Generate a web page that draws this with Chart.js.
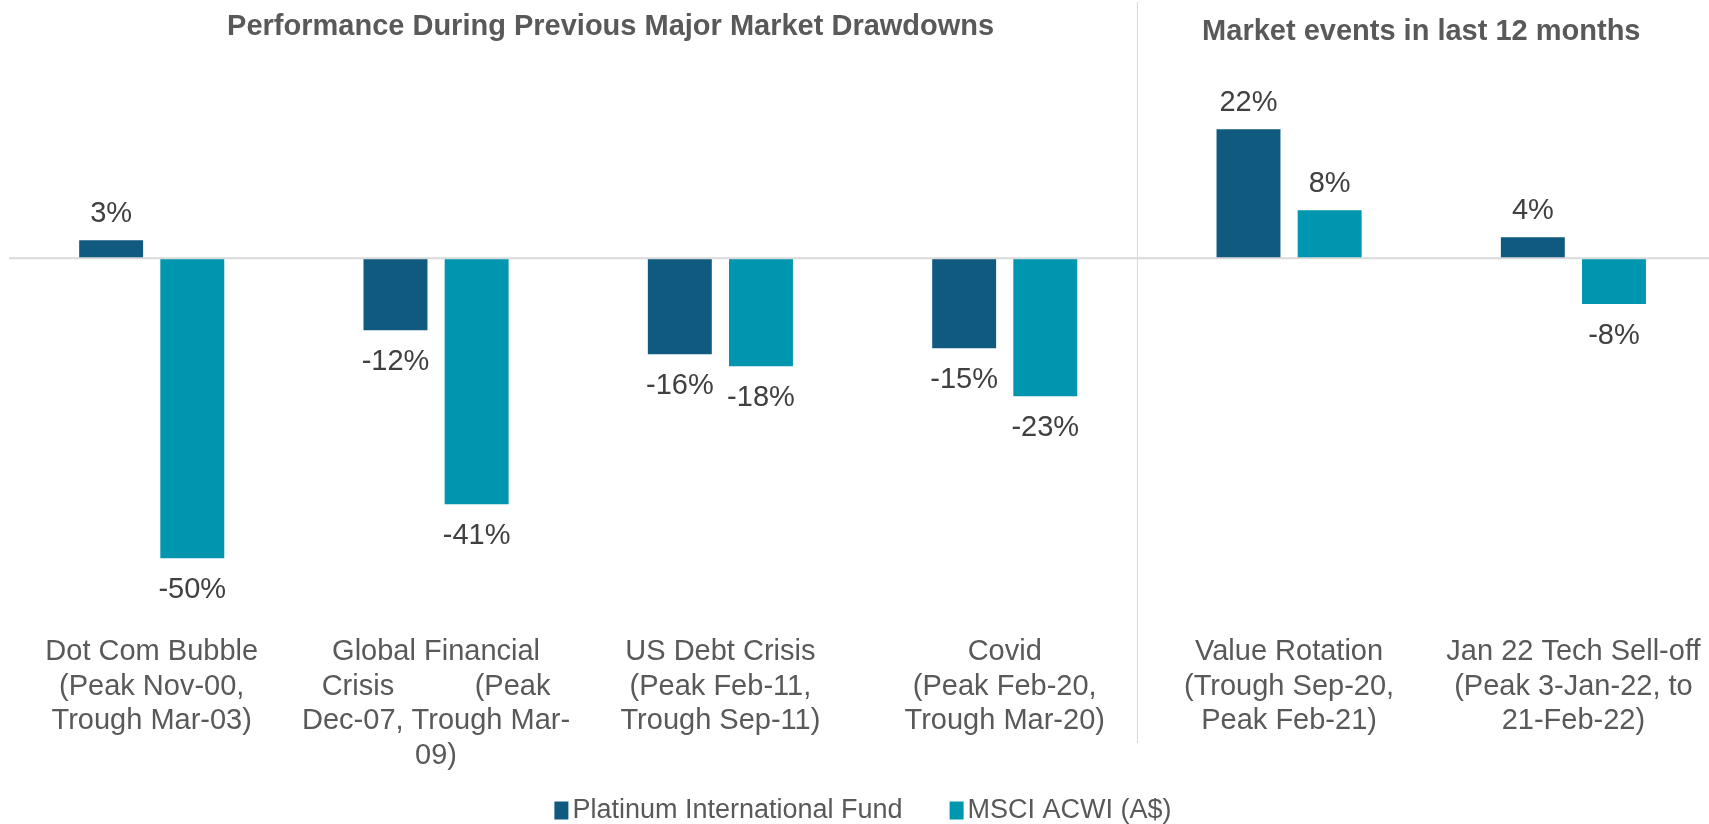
<!DOCTYPE html>
<html><head><meta charset="utf-8">
<script src="https://cdn.jsdelivr.net/npm/chart.js@4.4.1/dist/chart.umd.min.js"></script>
<style>
html,body{margin:0;padding:0;overflow:hidden;background:#fff;}
#wrap{position:relative;width:1717px;height:824px;}
</style></head><body>
<div id="wrap"><canvas id="c"></canvas></div>
<script>
// ---- data ----
const categories = [
  ['Dot Com Bubble', '(Peak Nov-00,', 'Trough Mar-03)'],
  ['Global Financial', 'Crisis          (Peak', 'Dec-07, Trough Mar-', '09)'],
  ['US Debt Crisis', '(Peak Feb-11,', 'Trough Sep-11)'],
  ['Covid', '(Peak Feb-20,', 'Trough Mar-20)'],
  ['Value Rotation', '(Trough Sep-20,', 'Peak Feb-21)'],
  ['Jan 22 Tech Sell-off', '(Peak 3-Jan-22, to', '21-Feb-22)']
];
const platinumFund = [3, -12, -16, -15, 21.5, 3.5];
const msciAcwi = [-50, -41, -18, -23, 8, -7.6];
const seriesNames = ['Platinum International Fund', 'MSCI ACWI (A$)'];
const sectionTitles = ['Performance During Previous Major Market Drawdowns', 'Market events in last 12 months'];

const COLORS = ['#10597F', '#0096AF'];
const FONT = "'Liberation Sans', Arial, sans-serif";

const decor = {
  id: 'decor',
  afterDatasetsDraw(chart) {
    const ctx = chart.ctx;
    const x = chart.scales.x, y = chart.scales.y;
    const step = x.getPixelForValue(1) - x.getPixelForValue(0);
    ctx.save();
    // zero line
    const y0 = y.getPixelForValue(0);
    ctx.strokeStyle = '#d9d9d9';
    ctx.lineWidth = 2;
    ctx.beginPath();
    ctx.moveTo(chart.chartArea.left - 0.5, y0);
    ctx.lineTo(chart.width, y0);
    ctx.stroke();
    // divider
    const dx = Math.round(x.getPixelForValue(3) + 0.465 * step) + 0.5;
    ctx.lineWidth = 1;
    ctx.beginPath();
    ctx.moveTo(dx, 2);
    ctx.lineTo(dx, 743);
    ctx.stroke();
    // data labels
    ctx.font = '29px ' + FONT;
    ctx.fillStyle = '#404040';
    ctx.textAlign = 'center';
    ctx.textBaseline = 'alphabetic';
    chart.data.datasets.forEach((ds, di) => {
      const meta = chart.getDatasetMeta(di);
      meta.data.forEach((bar, i) => {
        const v = ds.data[i];
        const txt = Math.round(v) + '%';
        if (v >= 0) ctx.fillText(txt, bar.x, bar.y - 18);
        else ctx.fillText(txt, bar.x, bar.y + 40);
      });
    });
    // section titles
    ctx.font = 'bold 29px ' + FONT;
    ctx.fillStyle = '#595959';
    ctx.fillText(sectionTitles[0], x.getPixelForValue(1.614), 34.5);
    ctx.fillText(sectionTitles[1], x.getPixelForValue(4.465), 39.5);
    // legend
    ctx.font = '27px ' + FONT;
    ctx.textAlign = 'left';
    ctx.textBaseline = 'middle';
    const boxW = 14, boxH = 18, gapBT = 4, gapItems = 47;
    const widths = seriesNames.map(n => ctx.measureText(n).width);
    const total = widths.reduce((a, w) => a + boxW + gapBT + w, 0) + gapItems;
    let lx = 863 - total / 2;
    const ly = 810.5;
    seriesNames.forEach((n, i) => {
      ctx.fillStyle = COLORS[i];
      ctx.fillRect(lx, ly - boxH / 2, boxW, boxH);
      ctx.fillStyle = '#595959';
      ctx.fillText(n, lx + boxW + gapBT, ly);
      lx += boxW + gapBT + widths[i] + gapItems;
    });
    ctx.restore();
  }
};

new Chart(document.getElementById('c'), {
  type: 'bar',
  data: {
    labels: categories,
    datasets: [
      { label: seriesNames[0], data: platinumFund, backgroundColor: COLORS[0],
        categoryPercentage: 0.5708, barPercentage: 0.788 },
      { label: seriesNames[1], data: msciAcwi, backgroundColor: COLORS[1],
        categoryPercentage: 0.5708, barPercentage: 0.788 }
    ]
  },
  options: {
    responsive: true,
    maintainAspectRatio: false,
    animation: false,
    devicePixelRatio: 1,
    layout: { padding: { top: 18.3, left: 9.55, right: 0, bottom: 34.7 } },
    plugins: { legend: { display: false }, title: { display: false }, tooltip: { enabled: false } },
    scales: {
      x: {
        grid: { display: false, drawTicks: false },
        border: { display: false },
        ticks: {
          autoSkip: false, maxRotation: 0, minRotation: 0,
          padding: 16.5,
          color: '#595959',
          font: { family: FONT, size: 29, lineHeight: 1.19 }
        }
      },
      y: {
        display: false,
        min: -60, max: 40
      }
    }
  },
  plugins: [decor]
});
</script>
</body></html>
